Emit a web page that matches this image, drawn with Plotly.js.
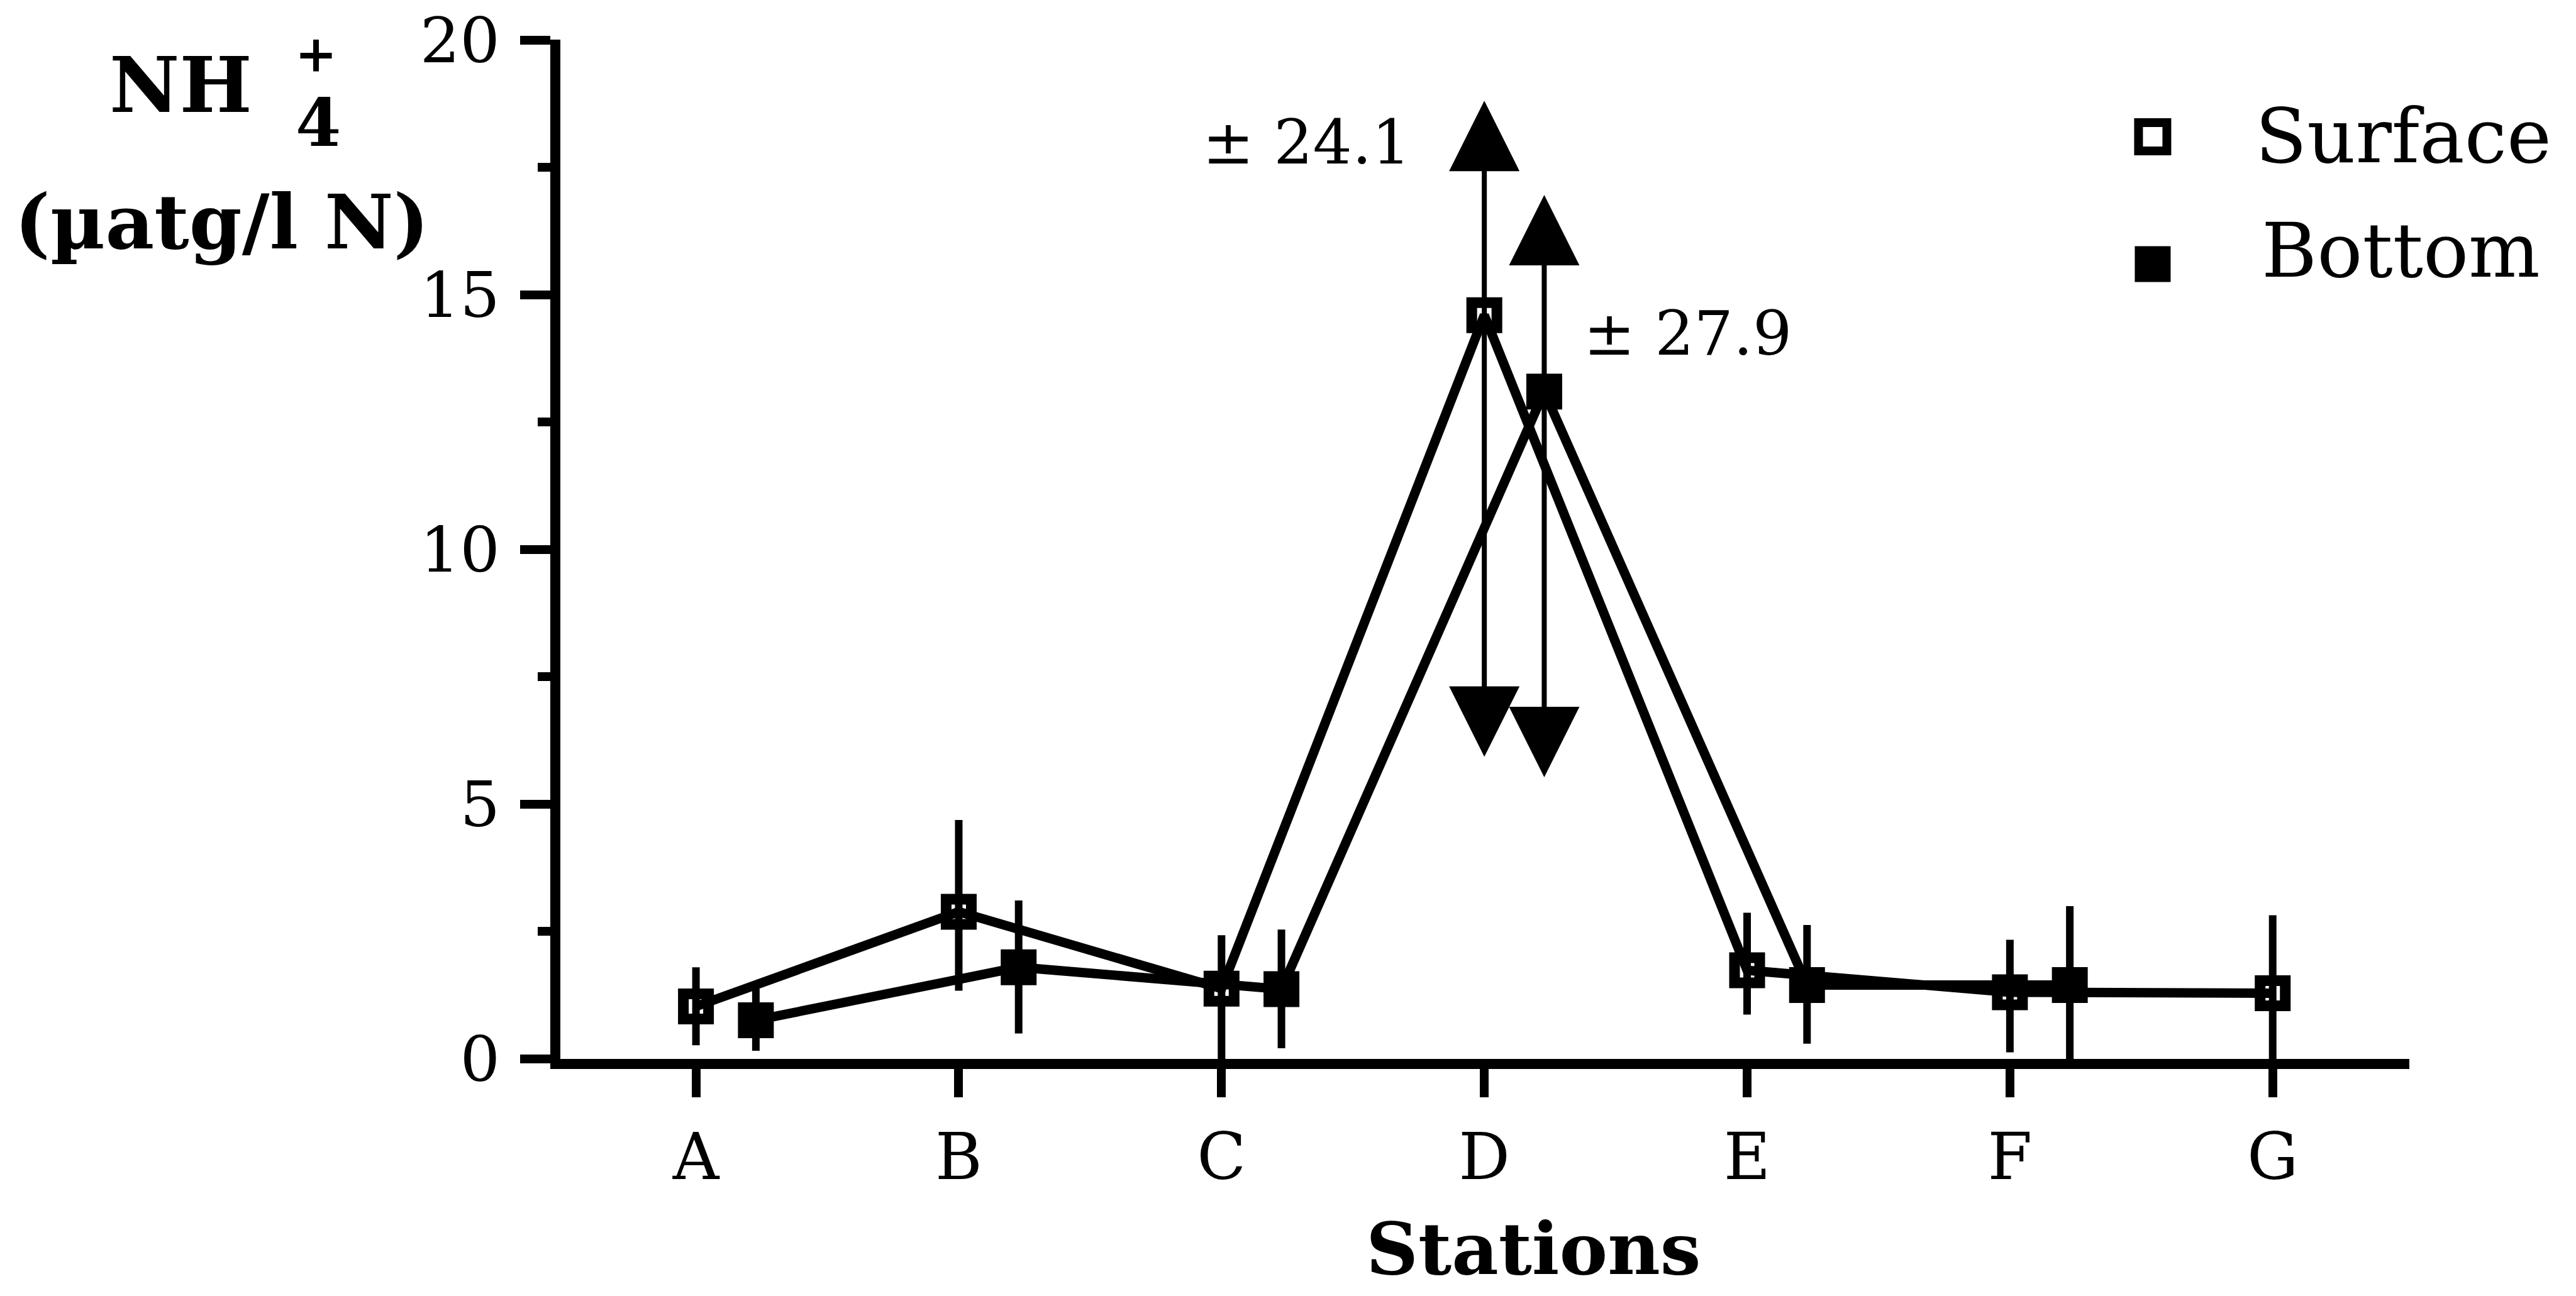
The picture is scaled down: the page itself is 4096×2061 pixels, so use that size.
<!DOCTYPE html>
<html>
<head>
<meta charset="utf-8">
<script src="https://cdn.plot.ly/plotly-3.0.1.min.js"></script>
<style>
  html, body { margin: 0; padding: 0; background: #ffffff; }
  #chart { width: 4096px; height: 2061px; }
</style>
</head>
<body>
<div id="chart"></div>
<script>
// ---------------- data ----------------
const stations = ['A', 'B', 'C', 'D', 'E', 'F', 'G'];
const seriesNames = ['Surface', 'Bottom'];

const surfaceMean    = [1.03, 2.89, 1.38, 14.6, 1.74, 1.31, 1.29];
const surfaceErrUp   = [0.77, 1.80, 1.05, 0,    1.13, 1.03, 1.53];
const surfaceErrDown = [0.76, 1.55, 1.38, 0,    0.87, 1.18, 1.29];

const bottomMean     = [0.76, 1.80, 1.37, 13.1, 1.45, 1.45, null];
const bottomErrUp    = [0.62, 1.31, 1.17, 0,    1.18, 1.55, null];
const bottomErrDown  = [0.60, 1.30, 1.16, 0,    1.15, 1.45, null];

// off-scale standard deviations at station D (drawn as arrows)
const offScaleSD     = [24.1, 27.9];     // surface, bottom
const arrowUpTip     = [18.81, 16.96];   // where the arrows are cut
const arrowDownTip   = [5.93, 5.53];

const yTickVals = [0, 5, 10, 15, 20];

// ---------------- styling ----------------
const BOTTOM_SHIFT = 0.228;   // bottom samples are drawn just right of each station
const FONT = 'DejaVu Serif, Liberation Serif, serif';
const INK = '#000000';

const idx = stations.map((s, i) => i);
const xSurface = idx;
const xBottom = idx.map(i => i + BOTTOM_SHIFT);
const dIndex = stations.indexOf('D');

const surfaceTrace = {
  type: 'scatter', mode: 'lines+markers', name: seriesNames[0],
  x: xSurface, y: surfaceMean,
  line: { color: INK, width: 15 },
  marker: { symbol: 'square-open', size: 40, color: INK, line: { color: INK, width: 17 } },
  error_y: { type: 'data', symmetric: false, array: surfaceErrUp, arrayminus: surfaceErrDown,
             color: INK, thickness: 12, width: 0 },
  cliponaxis: true, hoverinfo: 'skip'
};
const bottomTrace = {
  type: 'scatter', mode: 'lines+markers', name: seriesNames[1],
  x: xBottom, y: bottomMean,
  line: { color: INK, width: 15 },
  marker: { symbol: 'square', size: 57, color: INK, line: { width: 0 } },
  error_y: { type: 'data', symmetric: false, array: bottomErrUp, arrayminus: bottomErrDown,
             color: INK, thickness: 12, width: 0 },
  cliponaxis: true, hoverinfo: 'skip'
};

// legend proxies on a hidden overlay axis (paper-like 0..1)
const legendX = [0.8612, 0.8612];
const legendY = [0.9047, 0.7798];
const legendTrace1 = {
  type: 'scatter', mode: 'markers', xaxis: 'x2', yaxis: 'y2',
  x: [legendX[0]], y: [legendY[0]], showlegend: false, hoverinfo: 'skip',
  marker: { symbol: 'square-open', size: 45, color: INK, line: { color: INK, width: 14 } }
};
const legendTrace2 = {
  type: 'scatter', mode: 'markers', xaxis: 'x2', yaxis: 'y2',
  x: [legendX[1]], y: [legendY[1]], showlegend: false, hoverinfo: 'skip',
  marker: { symbol: 'square', size: 57, color: INK, line: { width: 0 } }
};

const xsD = [xSurface[dIndex], xBottom[dIndex]];
const ysD = [surfaceMean[dIndex], bottomMean[dIndex]];

const annotations = [];
// arrows for the off-scale error bars
for (let k = 0; k < 2; k++) {
  [arrowUpTip[k], arrowDownTip[k]].forEach(tip => {
    annotations.push({
      xref: 'x', yref: 'y', axref: 'x', ayref: 'y',
      x: xsD[k], y: tip, ax: xsD[k], ay: ysD[k],
      text: '', showarrow: true, arrowhead: 2, arrowsize: 2.8, arrowwidth: 8,
      arrowcolor: INK, standoff: 0, startstandoff: 0
    });
  });
}
// ± labels
annotations.push({ xref: 'x', yref: 'y', x: 2.324, y: 18.0, text: '± ' + offScaleSD[0].toFixed(1),
  showarrow: false, xanchor: 'center', yanchor: 'middle', font: { family: FONT, size: 98, color: INK } });
annotations.push({ xref: 'x', yref: 'y', x: 3.774, y: 14.25, text: '± ' + offScaleSD[1].toFixed(1),
  showarrow: false, xanchor: 'center', yanchor: 'middle', font: { family: FONT, size: 98, color: INK } });

// y-axis title (NH4+ with stacked charge/index)
annotations.push({ xref: 'paper', yref: 'paper', x: -0.2054, y: 0.9557, text: '<b>NH</b>',
  showarrow: false, xanchor: 'center', yanchor: 'middle', font: { family: FONT, size: 122, color: INK } });
annotations.push({ xref: 'paper', yref: 'paper', x: -0.1320, y: 0.9860, text: '<b>+</b>',
  showarrow: false, xanchor: 'center', yanchor: 'middle', font: { family: FONT, size: 80, color: INK } });
annotations.push({ xref: 'paper', yref: 'paper', x: -0.1310, y: 0.9182, text: '<b>4</b>',
  showarrow: false, xanchor: 'center', yanchor: 'middle', font: { family: FONT, size: 104, color: INK } });
annotations.push({ xref: 'paper', yref: 'paper', x: -0.183, y: 0.8217, text: '<b>(µatg/l N)</b>',
  showarrow: false, xanchor: 'center', yanchor: 'middle', font: { family: FONT, size: 120, color: INK } });

// x-axis title
annotations.push({ xref: 'paper', yref: 'paper', x: 0.5265, y: -0.186, text: '<b>Stations</b>',
  showarrow: false, xanchor: 'center', yanchor: 'middle', font: { family: FONT, size: 115, color: INK } });

// legend labels
annotations.push({ xref: 'paper', yref: 'paper', x: 0.9160, y: 0.905, text: seriesNames[0],
  showarrow: false, xanchor: 'left', yanchor: 'middle', font: { family: FONT, size: 120, color: INK } });
annotations.push({ xref: 'paper', yref: 'paper', x: 0.9195, y: 0.793, text: seriesNames[1],
  showarrow: false, xanchor: 'left', yanchor: 'middle', font: { family: FONT, size: 120, color: INK } });

const layout = {
  width: 4096, height: 2061,
  margin: { l: 891, r: 265, t: 63, b: 377, pad: 0 },
  paper_bgcolor: '#ffffff', plot_bgcolor: '#ffffff',
  showlegend: false,
  font: { family: FONT, color: INK },
  xaxis: {
    type: 'linear', range: [-0.516, 6.52],
    tickmode: 'array', tickvals: idx, ticktext: stations,
    ticks: 'outside', ticklen: 45, tickwidth: 14, tickcolor: INK,
    showline: true, linewidth: 16, linecolor: INK,
    showgrid: false, zeroline: false,
    tickfont: { family: FONT, size: 102, color: INK },
    ticklabelstandoff: 8, ticklabeloverflow: 'allow'
  },
  yaxis: {
    range: [0, 20.01],
    tickmode: 'array', tickvals: yTickVals, ticktext: yTickVals.map(String),
    ticks: 'outside', ticklen: 48, tickwidth: 14, tickcolor: INK,
    minor: { tickmode: 'linear', tick0: 0, dtick: 2.5, ticks: 'outside', ticklen: 20, tickwidth: 14, tickcolor: INK, showgrid: false },
    showline: true, linewidth: 16, linecolor: INK,
    showgrid: false, zeroline: false,
    tickfont: { family: FONT, size: 100, color: INK },
    ticklabelstandoff: 12, ticklabeloverflow: 'allow'
  },
  xaxis2: { overlaying: 'x', anchor: 'y2', range: [0, 1], visible: false, fixedrange: true },
  yaxis2: { overlaying: 'y', anchor: 'x2', range: [0, 1], visible: false, fixedrange: true },
  annotations: annotations
};

Plotly.newPlot('chart', [bottomTrace, surfaceTrace, legendTrace1, legendTrace2], layout,
  { staticPlot: true, displayModeBar: false });
</script>
</body>
</html>
